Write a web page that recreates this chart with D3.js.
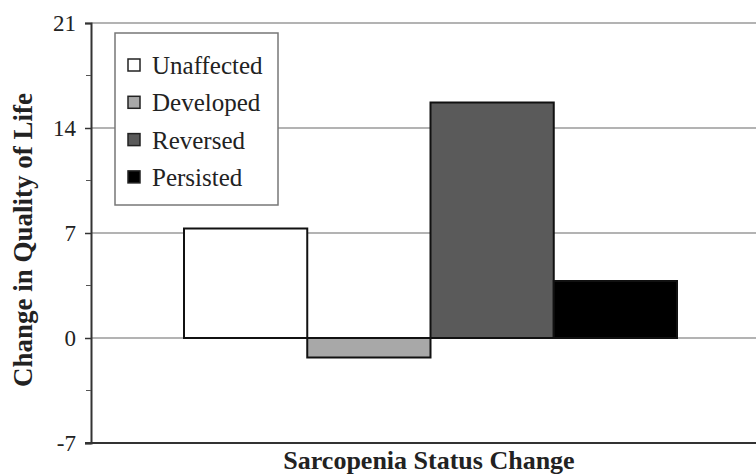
<!DOCTYPE html>
<html>
<head>
<meta charset="utf-8">
<script src="https://cdn.jsdelivr.net/npm/d3@7"></script>
<style>
  body { margin: 0; background: #fff; }
  svg text { font-family: "Liberation Serif", "Times New Roman", serif; }
</style>
</head>
<body>
<svg width="756" height="475"></svg>
<script>
let groups = ["Unaffected", "Developed", "Reversed", "Persisted"];
let values = [7.3, -1.3, 15.7, 3.8];
let colors = ["#ffffff", "#a8a8a8", "#5a5a5a", "#000000"];
let yTicks = [-7, 0, 7, 14, 21];
let yMinor = [-3.5, 3.5, 10.5, 17.5];

let svg = d3.select("svg");
let margin = {left: 91, right: -14, top: 23, bottom: 32};
let width = 756 - margin.left - margin.right;
let height = 475 - margin.top - margin.bottom;

let g = svg.append("g").attr("transform", "translate(" + margin.left + "," + margin.top + ")");

let y = d3.scaleLinear().domain([-7, 21]).range([height, 0]);
let x = d3.scaleBand().domain(groups).range([93, 586]);

// gridlines
g.selectAll(".grid")
  .data(yTicks.filter(d => d > -7))
  .enter()
  .append("line")
  .attr("x1", 0).attr("x2", width)
  .attr("y1", d => y(d)).attr("y2", d => y(d))
  .attr("stroke", "#9a9a9a")
  .attr("stroke-width", 1.5);

// bars
g.selectAll(".bar")
  .data(groups)
  .enter()
  .append("rect")
  .attr("x", d => x(d))
  .attr("width", x.bandwidth())
  .attr("y", (d, i) => y(Math.max(0, values[i])))
  .attr("height", (d, i) => Math.abs(y(values[i]) - y(0)))
  .attr("fill", (d, i) => colors[i])
  .attr("stroke", "#111")
  .attr("stroke-width", 2);

// y axis
let yAxis = d3.axisLeft(y).tickValues(yTicks).tickSize(6).tickPadding(9).tickFormat(d => String(d));
let ya = g.append("g").call(yAxis).attr("font-family", null);
ya.select(".domain").attr("stroke", "#333").attr("stroke-width", 2);
ya.selectAll(".tick line").attr("stroke", "#333").attr("stroke-width", 1.5);
ya.selectAll("text").attr("font-size", 23).attr("fill", "#222");

g.selectAll(".minor")
  .data(yMinor)
  .enter()
  .append("line")
  .attr("x1", -5).attr("x2", 0)
  .attr("y1", d => y(d)).attr("y2", d => y(d))
  .attr("stroke", "#555")
  .attr("stroke-width", 1);

// x axis line
g.append("line")
  .attr("x1", -6).attr("x2", width)
  .attr("y1", height).attr("y2", height)
  .attr("stroke", "#333").attr("stroke-width", 2);

// titles
svg.append("text")
  .attr("transform", "translate(32,240) rotate(-90)")
  .attr("text-anchor", "middle")
  .attr("font-size", 27)
  .attr("font-weight", "bold")
  .attr("fill", "#222")
  .text("Change in Quality of Life");

svg.append("text")
  .attr("x", 429)
  .attr("y", 469)
  .attr("text-anchor", "middle")
  .attr("font-size", 26)
  .attr("font-weight", "bold")
  .attr("fill", "#222")
  .text("Sarcopenia Status Change");

// legend
let legend = svg.append("g").attr("transform", "translate(115,33)");
legend.append("rect")
  .attr("width", 163).attr("height", 172)
  .attr("fill", "#fff")
  .attr("stroke", "#777")
  .attr("stroke-width", 1.5);

let items = legend.selectAll(".item")
  .data(groups)
  .enter()
  .append("g")
  .attr("transform", (d, i) => "translate(12," + (32 + i * 37.3) + ")");

items.append("rect")
  .attr("x", 1).attr("y", -6)
  .attr("width", 12).attr("height", 12)
  .attr("fill", (d, i) => colors[i])
  .attr("stroke", "#222")
  .attr("stroke-width", 1.5);

items.append("text")
  .attr("x", 25)
  .attr("y", 9)
  .attr("font-size", 25)
  .attr("fill", "#222")
  .text(d => d);
</script>
</body>
</html>
